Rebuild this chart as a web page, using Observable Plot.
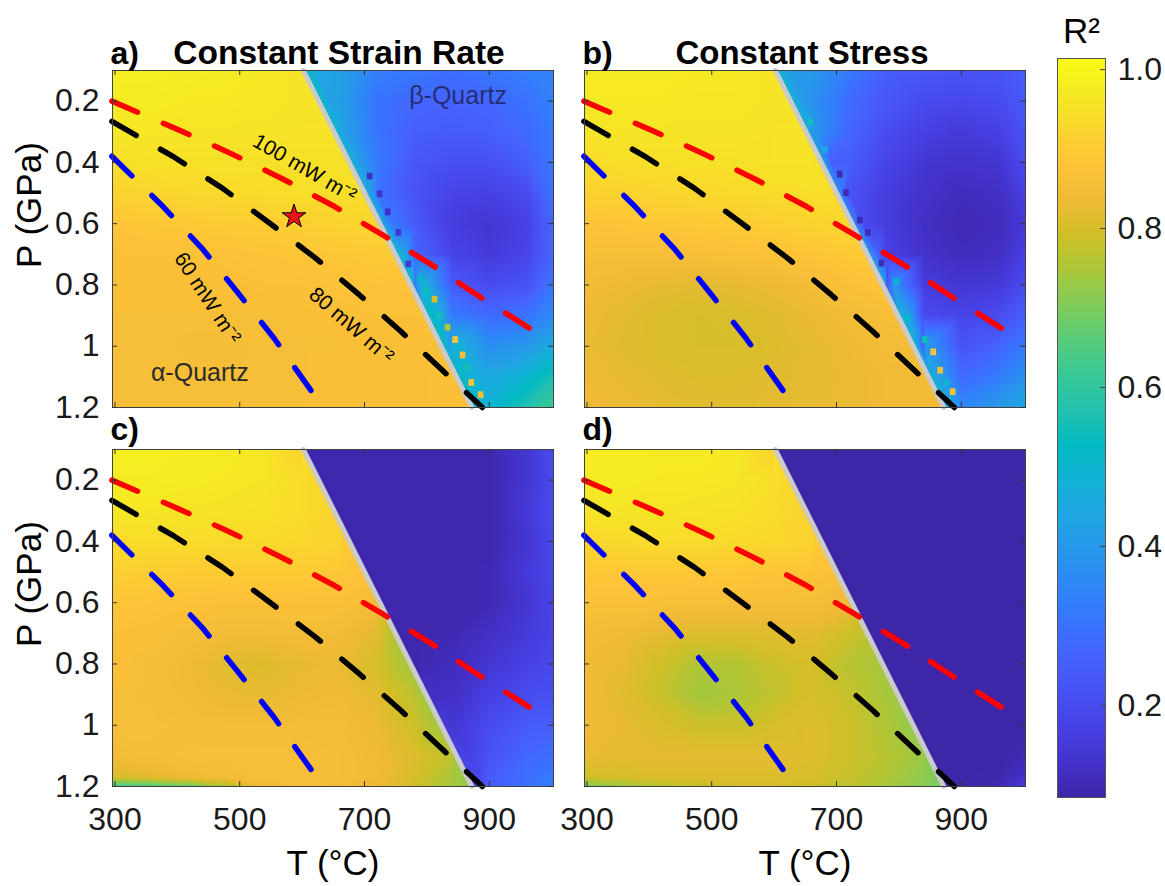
<!DOCTYPE html>
<html>
<head>
<meta charset="utf-8">
<script src="https://cdn.jsdelivr.net/npm/d3@7"></script>
<script src="https://cdn.jsdelivr.net/npm/@observablehq/plot@0.6"></script>
<style>
html, body { margin: 0; padding: 0; background: #fff; }
#fig { position: relative; width: 1165px; height: 886px; overflow: hidden; background: #fff;
       font-family: "Liberation Sans", Arial, Helvetica, sans-serif; color: #1a1a1a; }
#fig svg { position: absolute; left: 0; top: 0; }
</style>
</head>
<body>
<div id="fig"></div>
<script>
// ---------------- data ----------------
// sample grid (T in °C, P in GPa)
const temps = [296, 360, 420, 480, 540, 600, 660, 720, 780, 840, 900, 960, 1003];
const pressures = [0.1, 0.2, 0.3, 0.4, 0.5, 0.6, 0.7, 0.8, 0.9, 1.0, 1.1, 1.17, 1.2];

// a) Constant Strain Rate (R²)
const r2StrainRate = [
  [0.985, 0.985, 0.98, 0.975, 0.97, 0.965, 0.42, 0.33, 0.31, 0.29, 0.31, 0.33, 0.34],
  [0.975, 0.975, 0.97, 0.97, 0.965, 0.96, 0.42, 0.30, 0.27, 0.26, 0.27, 0.30, 0.33],
  [0.965, 0.965, 0.96, 0.96, 0.96, 0.955, 0.45, 0.30, 0.25, 0.24, 0.25, 0.28, 0.32],
  [0.945, 0.95, 0.95, 0.95, 0.95, 0.95, 0.95, 0.32, 0.23, 0.21, 0.21, 0.25, 0.31],
  [0.92, 0.925, 0.93, 0.935, 0.94, 0.945, 0.945, 0.30, 0.22, 0.18, 0.17, 0.20, 0.30],
  [0.885, 0.89, 0.895, 0.90, 0.905, 0.91, 0.92, 0.925, 0.24, 0.16, 0.14, 0.17, 0.27],
  [0.87, 0.87, 0.87, 0.875, 0.88, 0.885, 0.89, 0.895, 0.27, 0.18, 0.15, 0.18, 0.27],
  [0.865, 0.865, 0.865, 0.865, 0.87, 0.87, 0.875, 0.88, 0.30, 0.24, 0.20, 0.22, 0.30],
  [0.86, 0.86, 0.86, 0.86, 0.86, 0.865, 0.865, 0.87, 0.87, 0.32, 0.28, 0.30, 0.36],
  [0.86, 0.86, 0.855, 0.855, 0.86, 0.86, 0.86, 0.865, 0.865, 0.40, 0.37, 0.40, 0.46],
  [0.86, 0.86, 0.86, 0.86, 0.86, 0.86, 0.865, 0.865, 0.865, 0.87, 0.45, 0.50, 0.56],
  [0.86, 0.86, 0.86, 0.86, 0.86, 0.86, 0.865, 0.865, 0.865, 0.87, 0.48, 0.55, 0.61],
  [0.86, 0.86, 0.86, 0.86, 0.86, 0.86, 0.865, 0.865, 0.865, 0.87, 0.50, 0.57, 0.63]
];
const r2StrainRateAlphaEdge = [0.96, 0.96, 0.955, 0.95, 0.945, 0.925, 0.895, 0.875, 0.87, 0.865, 0.865, 0.865, 0.865];
const r2StrainRateBetaEdge  = [0.52, 0.52, 0.50, 0.48, 0.45, 0.45, 0.50, 0.52, 0.52, 0.52, 0.52, 0.52, 0.52];
const r2StrainRateBetaBand  = [0.45, 0.42, 0.42, 0.40, 0.35, 0.32, 0.42, 0.50, 0.50, 0.50, 0.50, 0.50, 0.50];
// stair-step cells along the transition (β side)
const stairAT = [709, 725, 738, 755, 771, 790, 800, 813, 822, 834, 846, 858, 865, 872, 887];
const stairAP = [0.446, 0.504, 0.563, 0.63, 0.733, 0.78, 0.82, 0.848, 0.9, 0.94, 0.98, 1.03, 1.07, 1.12, 1.16];
const stairAR = [0.12, 0.13, 0.12, 0.14, 0.15, 0.50, 0.55, 0.80, 0.55, 0.75, 0.88, 0.87, 0.55, 0.88, 0.86];

// b) Constant Stress
const r2Stress = [
  [0.975, 0.975, 0.975, 0.97, 0.97, 0.965, 0.40, 0.32, 0.25, 0.23, 0.22, 0.22, 0.25],
  [0.97, 0.97, 0.97, 0.965, 0.965, 0.96, 0.38, 0.28, 0.23, 0.20, 0.19, 0.20, 0.24],
  [0.96, 0.96, 0.96, 0.96, 0.96, 0.955, 0.40, 0.27, 0.20, 0.17, 0.15, 0.17, 0.22],
  [0.94, 0.945, 0.945, 0.95, 0.95, 0.955, 0.955, 0.25, 0.18, 0.14, 0.13, 0.14, 0.20],
  [0.915, 0.92, 0.925, 0.93, 0.935, 0.94, 0.945, 0.22, 0.16, 0.13, 0.11, 0.12, 0.17],
  [0.88, 0.885, 0.89, 0.895, 0.90, 0.91, 0.92, 0.93, 0.16, 0.12, 0.10, 0.11, 0.15],
  [0.86, 0.86, 0.86, 0.865, 0.87, 0.875, 0.885, 0.895, 0.17, 0.13, 0.11, 0.12, 0.17],
  [0.845, 0.835, 0.825, 0.82, 0.825, 0.835, 0.85, 0.87, 0.20, 0.16, 0.14, 0.15, 0.20],
  [0.835, 0.82, 0.805, 0.80, 0.805, 0.815, 0.83, 0.845, 0.86, 0.20, 0.18, 0.20, 0.25],
  [0.83, 0.815, 0.805, 0.80, 0.80, 0.81, 0.82, 0.835, 0.85, 0.22, 0.22, 0.26, 0.32],
  [0.835, 0.825, 0.815, 0.81, 0.81, 0.815, 0.82, 0.83, 0.84, 0.845, 0.28, 0.32, 0.38],
  [0.84, 0.83, 0.82, 0.815, 0.815, 0.82, 0.825, 0.83, 0.84, 0.845, 0.33, 0.38, 0.43],
  [0.84, 0.83, 0.82, 0.815, 0.815, 0.82, 0.825, 0.83, 0.84, 0.845, 0.35, 0.40, 0.45]
];
const r2StressAlphaEdge = [0.96, 0.96, 0.955, 0.95, 0.945, 0.93, 0.90, 0.88, 0.86, 0.85, 0.845, 0.845, 0.845];
const r2StressBetaEdge  = [0.52, 0.50, 0.48, 0.40, 0.35, 0.35, 0.40, 0.45, 0.48, 0.48, 0.48, 0.48, 0.48];
const r2StressBetaBand  = [0.42, 0.40, 0.38, 0.25, 0.20, 0.20, 0.25, 0.38, 0.42, 0.42, 0.42, 0.42, 0.42];
const stairBT = [660, 682, 706, 716, 738, 751, 773, 797, 815, 842, 856, 867, 877, 887];
const stairBP = [0.27, 0.36, 0.44, 0.5, 0.59, 0.63, 0.73, 0.79, 0.91, 0.98, 1.02, 1.08, 1.12, 1.15];
const stairBR = [0.55, 0.45, 0.10, 0.10, 0.10, 0.11, 0.11, 0.50, 0.50, 0.55, 0.88, 0.85, 0.50, 0.87];

// c)
const r2PanelC = [
  [0.985, 0.985, 0.98, 0.975, 0.965, 0.94, 0.09, 0.09, 0.09, 0.09, 0.09, 0.14, 0.20],
  [0.98, 0.98, 0.975, 0.97, 0.96, 0.94, 0.09, 0.09, 0.09, 0.09, 0.09, 0.14, 0.20],
  [0.965, 0.965, 0.96, 0.955, 0.95, 0.94, 0.09, 0.09, 0.09, 0.09, 0.09, 0.15, 0.20],
  [0.94, 0.94, 0.94, 0.935, 0.935, 0.93, 0.92, 0.09, 0.09, 0.09, 0.09, 0.14, 0.19],
  [0.91, 0.905, 0.90, 0.90, 0.90, 0.90, 0.89, 0.09, 0.09, 0.09, 0.10, 0.15, 0.19],
  [0.885, 0.88, 0.875, 0.87, 0.87, 0.87, 0.87, 0.85, 0.09, 0.09, 0.10, 0.14, 0.18],
  [0.87, 0.865, 0.855, 0.845, 0.845, 0.85, 0.845, 0.82, 0.09, 0.10, 0.12, 0.15, 0.18],
  [0.865, 0.855, 0.84, 0.815, 0.81, 0.825, 0.83, 0.80, 0.09, 0.11, 0.14, 0.17, 0.19],
  [0.86, 0.855, 0.845, 0.83, 0.825, 0.835, 0.84, 0.82, 0.77, 0.12, 0.17, 0.20, 0.21],
  [0.86, 0.86, 0.855, 0.85, 0.85, 0.85, 0.85, 0.83, 0.79, 0.14, 0.20, 0.24, 0.25],
  [0.85, 0.855, 0.86, 0.86, 0.86, 0.86, 0.855, 0.84, 0.81, 0.77, 0.22, 0.27, 0.29],
  [0.80, 0.82, 0.84, 0.85, 0.86, 0.86, 0.855, 0.84, 0.80, 0.75, 0.24, 0.29, 0.32],
  [0.62, 0.64, 0.68, 0.75, 0.84, 0.86, 0.85, 0.83, 0.79, 0.74, 0.25, 0.30, 0.33]
];
const r2PanelCAlphaEdge = [0.92, 0.93, 0.92, 0.90, 0.88, 0.82, 0.76, 0.74, 0.74, 0.74, 0.74, 0.73, 0.72];
const r2PanelCBetaEdge  = [0.09, 0.09, 0.09, 0.09, 0.09, 0.09, 0.09, 0.10, 0.12, 0.15, 0.18, 0.20, 0.20];
const r2PanelCBetaBand  = [0.09, 0.09, 0.09, 0.09, 0.09, 0.09, 0.09, 0.10, 0.12, 0.14, 0.17, 0.19, 0.20];

// d)
const r2PanelD = [
  [0.98, 0.98, 0.975, 0.975, 0.97, 0.94, 0.085, 0.085, 0.085, 0.085, 0.085, 0.085, 0.085],
  [0.975, 0.975, 0.97, 0.97, 0.965, 0.945, 0.085, 0.085, 0.085, 0.085, 0.085, 0.085, 0.085],
  [0.96, 0.96, 0.96, 0.955, 0.95, 0.94, 0.085, 0.085, 0.085, 0.085, 0.085, 0.085, 0.085],
  [0.93, 0.935, 0.94, 0.94, 0.935, 0.93, 0.92, 0.085, 0.085, 0.085, 0.085, 0.085, 0.085],
  [0.89, 0.89, 0.89, 0.89, 0.89, 0.885, 0.88, 0.085, 0.085, 0.085, 0.085, 0.085, 0.085],
  [0.87, 0.87, 0.865, 0.86, 0.86, 0.86, 0.855, 0.84, 0.085, 0.085, 0.085, 0.085, 0.085],
  [0.85, 0.84, 0.825, 0.81, 0.81, 0.815, 0.82, 0.79, 0.085, 0.085, 0.085, 0.085, 0.085],
  [0.84, 0.825, 0.79, 0.755, 0.76, 0.785, 0.80, 0.765, 0.085, 0.085, 0.085, 0.085, 0.085],
  [0.84, 0.815, 0.78, 0.74, 0.75, 0.775, 0.80, 0.78, 0.745, 0.085, 0.085, 0.085, 0.085],
  [0.84, 0.825, 0.805, 0.785, 0.785, 0.80, 0.81, 0.79, 0.755, 0.085, 0.085, 0.085, 0.085],
  [0.83, 0.82, 0.82, 0.82, 0.82, 0.82, 0.81, 0.79, 0.765, 0.73, 0.085, 0.085, 0.10],
  [0.79, 0.80, 0.81, 0.81, 0.81, 0.81, 0.80, 0.78, 0.755, 0.72, 0.085, 0.09, 0.13],
  [0.70, 0.73, 0.76, 0.78, 0.80, 0.80, 0.79, 0.77, 0.745, 0.71, 0.085, 0.10, 0.16]
];
const r2PanelDAlphaEdge = [0.92, 0.93, 0.92, 0.90, 0.87, 0.82, 0.77, 0.745, 0.735, 0.725, 0.715, 0.70, 0.69];
const r2PanelDBetaEdge  = [0.085, 0.085, 0.085, 0.085, 0.085, 0.085, 0.085, 0.085, 0.085, 0.085, 0.085, 0.085, 0.085];
const r2PanelDBetaBand  = [0.085, 0.085, 0.085, 0.085, 0.085, 0.085, 0.085, 0.085, 0.085, 0.085, 0.085, 0.085, 0.085];

// alpha–beta quartz transition
const transitionT = [602, 872];
const transitionP = [0.1, 1.2];

// geotherms
const geo100T = [295, 401, 484, 569, 652, 727, 806, 883, 979];
const geo100P = [0.2, 0.293, 0.369, 0.454, 0.544, 0.634, 0.732, 0.836, 0.96];
const geo80T = [295, 395, 472, 547, 620, 691, 758, 824, 889];
const geo80P = [0.266, 0.383, 0.484, 0.597, 0.71, 0.831, 0.951, 1.077, 1.2];
const geo60T = [295, 377, 441, 498, 555, 622];
const geo60P = [0.38, 0.544, 0.684, 0.828, 0.974, 1.167];

// sample location (star)
const starT = [587];
const starP = [0.577];

// annotation labels
const geoLabels = ["100 mW m⁻²", "80 mW m⁻²", "60 mW m⁻²"];
const geoLabelT = [604, 679, 448];
const geoLabelP = [0.419, 0.932, 0.842];
const geoLabelAngle = [30, 41, 57];

const phaseLabels = ["α-Quartz", "β-Quartz"];
const phaseLabelT = [436, 850];
const phaseLabelP = [1.087, 0.182];

// ticks
const xTicks = [300, 500, 700, 900];
const yTicks = [0.2, 0.4, 0.6, 0.8, 1, 1.2];
const colorTicks = [0.2, 0.4, 0.6, 0.8, 1.0];

const panelTitles = ["Constant Strain Rate", "Constant Stress", "", ""];
const panelLetters = ["a)", "b)", "c)", "d)"];

// ---------------- scales ----------------
const T_MIN = 296, T_MAX = 1003, P_MIN = 0.1, P_MAX = 1.2;
const C_MIN = 0.084, C_MAX = 1.014;
const parula = ["#3e26a8","#4332cb","#4741e5","#4852f4","#4563fd","#3875fe","#2e87f7","#2797eb",
  "#20a5e3","#12b1d6","#02bac3","#24c1ae","#37c897","#57cc7a","#81cc59","#abc739","#d1bf27",
  "#f0ba36","#fec338","#fad62d","#f5e924","#f9fb15"];
const colorScale = {type: "linear", domain: [C_MIN, C_MAX], interpolate: d3.piecewise(d3.interpolateRgb, parula), clamp: true};

const FW = 441, FH = 337; // frame size in px
const FONT = '"Liberation Sans", Arial, Helvetica, sans-serif';

const lineT = (p) => transitionT[0] + (p - transitionP[0]) / (transitionP[1] - transitionP[0]) * (transitionT[1] - transitionT[0]);

function fieldPoints(matrix, alphaEdge, betaEdge, betaBand, side) {
  const pts = [];
  pressures.forEach((p, j) => temps.forEach((t, i) => {
    const isAlpha = t < lineT(p);
    if (isAlpha === (side === "alpha")) pts.push({T: t, P: p, R: matrix[j][i]});
  }));
  pressures.forEach((p, j) => {
    if (side === "alpha") pts.push({T: lineT(p) - 4, P: p, R: alphaEdge[j]});
    else {
      pts.push({T: lineT(p) + 4, P: p, R: betaEdge[j]});
      pts.push({T: lineT(p) + 18, P: p, R: betaBand[j]});
    }
  });
  return pts;
}

// Plot's barycentric interpolation, restricted to one side of the α–β transition
function maskedBarycentric(side) {
  const bary = Plot.interpolatorBarycentric();
  return (index, width, height, X, Y, V) => {
    const W = bary(index, width, height, X, Y, V);
    for (let j = 0; j < height; ++j) {
      const p = P_MIN + ((j + 0.5) / height) * (P_MAX - P_MIN);
      const tb = lineT(p);
      for (let i = 0; i < width; ++i) {
        const t = T_MIN + ((i + 0.5) / width) * (T_MAX - T_MIN);
        if ((t < tb) !== (side === "alpha")) W[j * width + i] = NaN;
      }
    }
    return W;
  };
}

const toPts = (T, P) => T.map((t, i) => ({T: t, P: P[i]}));
const toCells = (T, P, R) => T.map((t, i) => ({T: t, P: P[i], R: R[i]}));
const transition = toPts(transitionT, transitionP);
const geo100 = toPts(geo100T, geo100P);
const geo80 = toPts(geo80T, geo80P);
const geo60 = toPts(geo60T, geo60P);

const fig = document.getElementById("fig");

function panel(k, left, top, matrix, aEdge, bEdge, bBand, stairs, showX, showY) {
  const alphaPts = fieldPoints(matrix, aEdge, bEdge, bBand, "alpha");
  const betaPts = fieldPoints(matrix, aEdge, bEdge, bBand, "beta");
  const rasterOpts = {x: "T", y: "P", fill: "R", x1: T_MIN, x2: T_MAX, y1: P_MIN, y2: P_MAX};
  const marks = [
    Plot.raster(alphaPts, {...rasterOpts, interpolate: maskedBarycentric("alpha")}),
    Plot.raster(betaPts, {...rasterOpts, interpolate: maskedBarycentric("beta")})
  ];
  if (stairs) {
    marks.push(Plot.rect(stairs, {x1: d => d.T - 4.5, x2: d => d.T + 4.5, y1: d => d.P - 0.011, y2: d => d.P + 0.011, fill: "R"}));
  }
  marks.push(
    Plot.line(transition, {x: "T", y: "P", stroke: "#cacaca", strokeWidth: 5}),
    Plot.line(geo100, {x: "T", y: "P", stroke: "#ff0000", strokeWidth: 5.5, strokeDasharray: "28,28"}),
    Plot.line(geo80, {x: "T", y: "P", stroke: "#000000", strokeWidth: 5.5, strokeDasharray: "28,28"}),
    Plot.line(geo60, {x: "T", y: "P", stroke: "#0000ff", strokeWidth: 5.5, strokeDasharray: "28,28"}),
    Plot.frame({stroke: "#404040", strokeWidth: 1}),
    Plot.tickX(xTicks, {x: d => d, insetTop: FH - 5, stroke: "#333"}),
    Plot.tickX(xTicks, {x: d => d, insetBottom: FH - 5, stroke: "#333"}),
    Plot.tickY(yTicks, {y: d => d, insetRight: FW - 5, stroke: "#333"}),
    Plot.tickY(yTicks, {y: d => d, insetLeft: FW - 5, stroke: "#333"}),
    Plot.text([panelLetters[k]], {text: d => d, frameAnchor: "top-left", textAnchor: "start", lineAnchor: "bottom",
      dx: -2, dy: top < 100 ? -7 : -10, fontSize: 32, fontWeight: "bold", fill: "#000"})
  );
  if (panelTitles[k]) {
    marks.push(Plot.text([panelTitles[k]], {text: d => d, frameAnchor: "top", lineAnchor: "bottom",
      dx: k === 0 ? 6 : -3, dy: -7, fontSize: k === 0 ? 33.5 : 33, fontWeight: "bold", fill: "#000"}));
  }
  if (k === 0) {
    const labels = geoLabels.map((s, i) => ({s, T: geoLabelT[i], P: geoLabelP[i], a: geoLabelAngle[i]}));
    for (const l of labels) {
      marks.push(Plot.text([l], {x: "T", y: "P", text: "s", rotate: l.a, fontSize: 21, fill: "#000"}));
    }
    const phases = phaseLabels.map((s, i) => ({s, T: phaseLabelT[i], P: phaseLabelP[i]}));
    marks.push(Plot.text([phases[0]], {x: "T", y: "P", text: "s", fontSize: 25, fill: "#2b2b2b"}));
    marks.push(Plot.text([phases[1]], {x: "T", y: "P", text: "s", fontSize: 25, fill: "#1c1e52", fillOpacity: 0.8}));
    marks.push(Plot.dot(toPts(starT, starP), {x: "T", y: "P", symbol: "star", r: 7.5, fill: "#e8141c", stroke: "#000", strokeWidth: 1}));
  }
  if (showY) {
    marks.push(Plot.axisY({ticks: yTicks, tickSize: 0, tickPadding: 13, fontSize: 32, label: null, tickFormat: d => String(d)}));
    marks.push(Plot.text(["P (GPa)"], {text: d => d, frameAnchor: "left", rotate: -90, dx: -83, dy: 29, fontSize: 35, fill: "#000"}));
  }
  if (showX) {
    marks.push(Plot.axisX({ticks: xTicks, tickSize: 0, tickPadding: 21, fontSize: 32, label: null, tickFormat: d => String(d)}));
    marks.push(Plot.text(["T (°C)"], {text: d => d, frameAnchor: "bottom", lineAnchor: "bottom", dy: 88, fontSize: 35, fill: "#000"}));
  }
  const svg = Plot.plot({
    width: 1165, height: 886,
    marginLeft: left, marginRight: 1165 - left - FW,
    marginTop: top, marginBottom: 886 - top - FH,
    x: {domain: [T_MIN, T_MAX], axis: null},
    y: {domain: [P_MIN, P_MAX], reverse: true, axis: null},
    color: colorScale,
    style: {fontFamily: FONT, background: "transparent", overflow: "visible", color: "#1a1a1a"},
    marks
  });
  fig.appendChild(svg);
}

panel(0, 112, 70, r2StrainRate, r2StrainRateAlphaEdge, r2StrainRateBetaEdge, r2StrainRateBetaBand, toCells(stairAT, stairAP, stairAR), false, true);
panel(1, 584, 70, r2Stress, r2StressAlphaEdge, r2StressBetaEdge, r2StressBetaBand, toCells(stairBT, stairBP, stairBR), false, false);
panel(2, 112, 449, r2PanelC, r2PanelCAlphaEdge, r2PanelCBetaEdge, r2PanelCBetaBand, null, true, true);
panel(3, 584, 449, r2PanelD, r2PanelDAlphaEdge, r2PanelDBetaEdge, r2PanelDBetaBand, null, true, false);

// colorbar
const cb = Plot.plot({
  width: 1165, height: 886,
  marginLeft: 1057, marginRight: 1165 - 1105, marginTop: 58, marginBottom: 886 - 797,
  x: {domain: [0, 1], axis: null},
  y: {domain: [C_MIN, C_MAX], axis: null},
  color: colorScale,
  style: {fontFamily: FONT, background: "transparent", overflow: "visible", color: "#1a1a1a"},
  marks: [
    Plot.raster({fill: (x, y) => y, x1: 0, x2: 1, y1: C_MIN, y2: C_MAX}),
    Plot.frame({stroke: "#555", strokeWidth: 1}),
    Plot.tickY(colorTicks, {y: d => d, insetLeft: 48 - 5, stroke: "#444"}),
    Plot.axisY({anchor: "right", ticks: colorTicks, tickSize: 0, tickPadding: 12, fontSize: 32, label: null, tickFormat: d => d.toFixed(1)}),
    Plot.text(["R²"], {text: d => d, frameAnchor: "top", lineAnchor: "bottom", dy: -16, fontSize: 35, fill: "#000"})
  ]
});
fig.appendChild(cb);
</script>
</body>
</html>
